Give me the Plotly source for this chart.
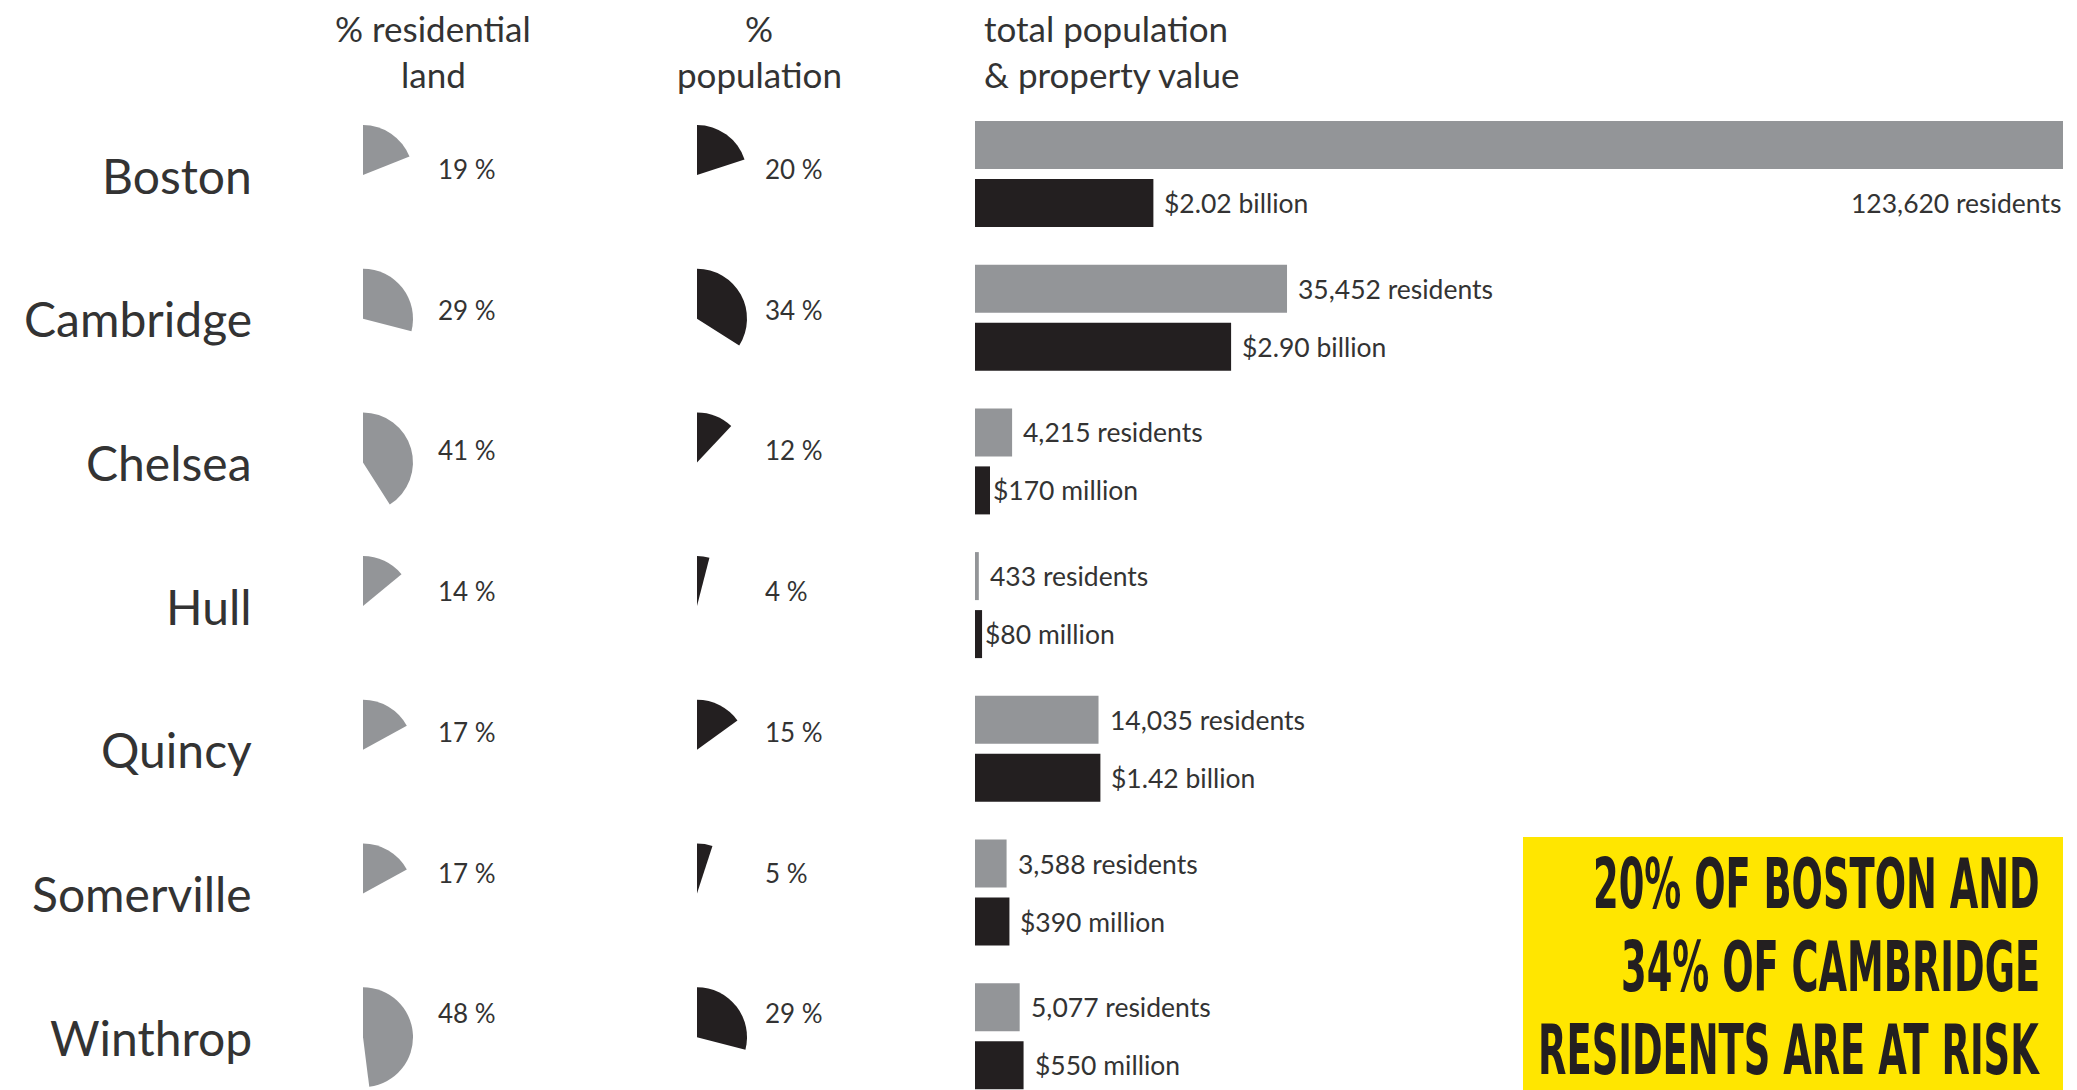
import json
import plotly.graph_objects as go

# ---- data ----
cities = ["Boston", "Cambridge", "Chelsea", "Hull", "Quincy", "Somerville", "Winthrop"]
land_pct = [19, 29, 41, 14, 17, 17, 48]          # % residential land at risk
pop_pct = [20, 34, 12, 4, 15, 5, 29]             # % population at risk
residents = [123620, 35452, 4215, 433, 14035, 3588, 5077]
value_musd = [2020, 2900, 170, 80, 1420, 390, 550]  # property value, $ millions

headline = ["20% OF BOSTON AND", "34% OF CAMBRIDGE", "RESIDENTS ARE AT RISK"]

# ---- styling / layout constants ----
W, H = 2077, 1090
ROW0, STEP = 175, 143.7          # pixel centre of first row, row spacing
PCT0, PCT_STEP = 169, 140.7      # pixel centre of the percent labels
GREY = "#939598"
DARK = "#231f20"
TEXT = "#333333"
YELLOW = "#ffe600"
FONT = "Lato, 'Open Sans', sans-serif"
CONDENSED = "'DejaVu Sans Condensed', 'Liberation Sans Narrow', sans-serif"
HEADLINE_SIZE = 41
HEADLINE_STRETCH = 1.68          # vertical stretch for a tall, narrow poster face
HEADLINE_Y0, HEADLINE_DY = 884, 83

BAR_X0, BAR_X1 = 975, 2063       # pixel extent of the bar area
LAND_X, POP_X = 363, 697         # pie centres (left edge of each wedge)
PIE_R = 50
BAR_H = 48 / STEP
GREY_OFF = -30 / STEP
DARK_OFF = 28 / STEP
MONEY_MAX = 12.32                # $ billions spanning the bar area
LABEL_SIZE = 26.5


def px(x):
    return x / W


def py(y):
    return 1 - y / H


def money_label(m):
    if m >= 1000:
        return f"${m / 1000:.2f} billion"
    return f"${m} million"


fig = go.Figure()

idx = list(range(len(cities)))

# population bars (grey) on the residents axis
fig.add_trace(go.Bar(
    y=idx, x=residents, orientation="h", xaxis="x", yaxis="y",
    marker=dict(color=GREY, line=dict(width=0)),
    width=BAR_H, offset=GREY_OFF - BAR_H / 2,
    hoverinfo="skip", showlegend=False,
))
# property value bars (black) on the money axis
fig.add_trace(go.Bar(
    y=idx, x=[v / 1000 for v in value_musd], orientation="h", xaxis="x2", yaxis="y",
    marker=dict(color=DARK, line=dict(width=0)),
    width=BAR_H, offset=DARK_OFF - BAR_H / 2,
    hoverinfo="skip", showlegend=False,
))

# pie wedges
for i, (lp, pp) in enumerate(zip(land_pct, pop_pct)):
    cy = ROW0 + STEP * i
    for cx, val, col in ((LAND_X, lp, GREY), (POP_X, pp, DARK)):
        fig.add_trace(go.Pie(
            values=[val, 100 - val],
            marker=dict(colors=[col, "rgba(0,0,0,0)"], line=dict(width=0)),
            sort=False, direction="clockwise", rotation=0,
            textinfo="none", hoverinfo="skip", showlegend=False,
            domain=dict(x=[px(cx - PIE_R), px(cx + PIE_R)],
                        y=[py(cy + PIE_R), py(cy - PIE_R)]),
        ))

annotations = []

# city names
for i, c in enumerate(cities):
    annotations.append(dict(
        x=px(254), y=i, xref="paper", yref="y", text=c, showarrow=False,
        xanchor="right", yanchor="middle",
        font=dict(family=FONT, size=48, color=TEXT),
    ))

# percent labels next to the wedges
for i, (lp, pp) in enumerate(zip(land_pct, pop_pct)):
    yy = py(PCT0 + PCT_STEP * i)
    annotations.append(dict(
        x=px(436), y=yy, xref="paper", yref="paper", text=f"{lp} %",
        showarrow=False, xanchor="left", yanchor="middle",
        font=dict(family=FONT, size=26, color=TEXT),
    ))
    annotations.append(dict(
        x=px(763), y=yy, xref="paper", yref="paper", text=f"{pp} %",
        showarrow=False, xanchor="left", yanchor="middle",
        font=dict(family=FONT, size=26, color=TEXT),
    ))

# bar value labels
max_res = max(residents)
for i, (r, m) in enumerate(zip(residents, value_musd)):
    if r > 0.8 * max_res:
        # bar spans the whole width: label sits beneath its end
        annotations.append(dict(
            x=r, y=i + DARK_OFF, xref="x", yref="y", text=f"{r:,} residents",
            showarrow=False, xanchor="right", yanchor="middle",
            font=dict(family=FONT, size=LABEL_SIZE, color=TEXT),
        ))
    else:
        annotations.append(dict(
            x=r, y=i + GREY_OFF, xref="x", yref="y", text=f"{r:,} residents",
            showarrow=False, xanchor="left", yanchor="middle", xshift=9,
            font=dict(family=FONT, size=LABEL_SIZE, color=TEXT),
        ))
    annotations.append(dict(
        x=m / 1000, y=i + DARK_OFF, xref="x2", yref="y", text=money_label(m),
        showarrow=False, xanchor="left", yanchor="middle", xshift=9 if m > 300 else 1,
        font=dict(family=FONT, size=LABEL_SIZE, color=TEXT),
    ))

# column headers
hdr = dict(family=FONT, size=35, color=TEXT)
annotations += [
    dict(x=px(433), y=py(28), xref="paper", yref="paper", text="% residential",
         showarrow=False, xanchor="center", yanchor="middle", font=hdr),
    dict(x=px(433), y=py(74), xref="paper", yref="paper", text="land",
         showarrow=False, xanchor="center", yanchor="middle", font=hdr),
    dict(x=px(759), y=py(28), xref="paper", yref="paper", text="%",
         showarrow=False, xanchor="center", yanchor="middle", font=hdr),
    dict(x=px(759), y=py(74), xref="paper", yref="paper", text="population",
         showarrow=False, xanchor="center", yanchor="middle", font=hdr),
    dict(x=px(982), y=py(28), xref="paper", yref="paper", text="total population",
         showarrow=False, xanchor="left", yanchor="middle", font=hdr),
    dict(x=px(982), y=py(74), xref="paper", yref="paper", text="&amp; property value",
         showarrow=False, xanchor="left", yanchor="middle", font=hdr),
]

# headline in the yellow box
for k, line in enumerate(headline):
    annotations.append(dict(
        x=px(2042), y=py(HEADLINE_Y0 + HEADLINE_DY * k), xref="paper", yref="paper",
        text=line, showarrow=False, xanchor="right", yanchor="middle",
        font=dict(family=CONDENSED, size=HEADLINE_SIZE, color=DARK, weight="bold"),
    ))

shapes = [dict(
    type="rect", xref="paper", yref="paper",
    x0=px(1523), x1=px(BAR_X1), y0=0, y1=py(837),
    fillcolor=YELLOW, line=dict(width=0), layer="below",
)]

fig.update_layout(
    width=W, height=H,
    margin=dict(l=0, r=0, t=0, b=0),
    paper_bgcolor="white", plot_bgcolor="rgba(0,0,0,0)",
    barmode="overlay",
    xaxis=dict(domain=[px(BAR_X0), px(BAR_X1)], range=[0, max_res],
               visible=False, fixedrange=True),
    xaxis2=dict(domain=[px(BAR_X0), px(BAR_X1)], range=[0, MONEY_MAX],
                overlaying="x", visible=False, fixedrange=True),
    yaxis=dict(domain=[0, 1], range=[(H - ROW0) / STEP, -ROW0 / STEP],
               visible=False, fixedrange=True),
    annotations=annotations,
    shapes=shapes,
    showlegend=False,
)

# stretch the headline lines vertically about their own centre
stretch_js = """
var gd = document.getElementById('{plot_id}');
var lines = %s;
var s = %s;
function stretchHeadline() {
  gd.querySelectorAll('text.annotation-text').forEach(function (t) {
    if (lines.indexOf(t.textContent) < 0) return;
    var b = t.getBBox();
    var cy = b.y + b.height / 2;
    t.setAttribute('transform',
      'translate(0,' + cy + ') scale(1,' + s + ') translate(0,' + (-cy) + ')');
  });
}
stretchHeadline();
gd.on('plotly_afterplot', stretchHeadline);
""" % (json.dumps(headline), HEADLINE_STRETCH)

fig.write_html("out.html", config={"displayModeBar": False}, post_script=stretch_js)
